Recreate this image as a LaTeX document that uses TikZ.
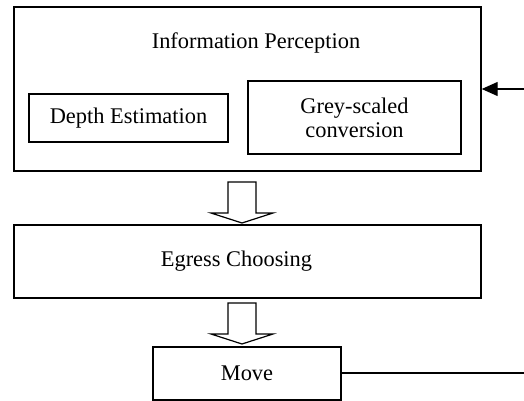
\documentclass[tikz,border=0pt]{standalone}
\usepackage{fontspec}
\setmainfont{Liberation Serif}
\usetikzlibrary{arrows.meta, calc}
\newcommand{\frecciaVuota}[2]{
\draw[line width = 0.6pt] ({#1-14},#2) -- ({#1-14},{#2+31}) -- ({#1-31},{#2+31}) -- (#1,{#2+41}) -- ({#1+31},{#2+31}) -- ({#1+14},{#2+31}) -- ({#1+14},#2) -- cycle;
}

\begin{document}
\begin{tikzpicture}[x = 0.5pt, y = -0.5pt, font = \fontsize{11.2}{13}\selectfont,
    scatola/.style = {draw, line width = 0.7pt, inner sep = 0pt, align = center}]
    \useasboundingbox (0,0) rectangle (524,401);
    % Percezione
    \node[scatola, minimum width = 233.5pt, minimum height = 82pt] (perc) at (247.5,89) {};
    \node (titolo) at (256,43) {Information Perception};
    \node[scatola, minimum width = 99.5pt, minimum height = 24pt] (depth) at (128.5,118) {Depth Estimation};
    \node[scatola, minimum width = 106.5pt, minimum height = 36.5pt] (grey) at (354.5,117.5) {Grey-scaled\\[-1pt]conversion};
    % Scelta uscita
    \node[scatola, minimum width = 233.5pt, minimum height = 36.5pt] (egress) at (247.5,261.5) {\hspace{-11pt}Egress Choosing};
    % Movimento
    \node[scatola, minimum width = 94pt, minimum height = 26.5pt] (move) at (247,373.5) {Move};
    % Frecce vuote
    \frecciaVuota{242}{182}
    \frecciaVuota{242}{303}
    % Ritorno
    \coordinate (ritornoOut) at (524,373);
    \coordinate (ritornoIn) at (524,89);
    \draw[line width = 0.6pt] (move.east |- ritornoOut) -- (ritornoOut);
    \draw[line width = 0.6pt, -{Triangle[length = 8pt, width = 7pt]}] (ritornoIn) -- (perc.east |- ritornoIn);
\end{tikzpicture}
\end{document}
